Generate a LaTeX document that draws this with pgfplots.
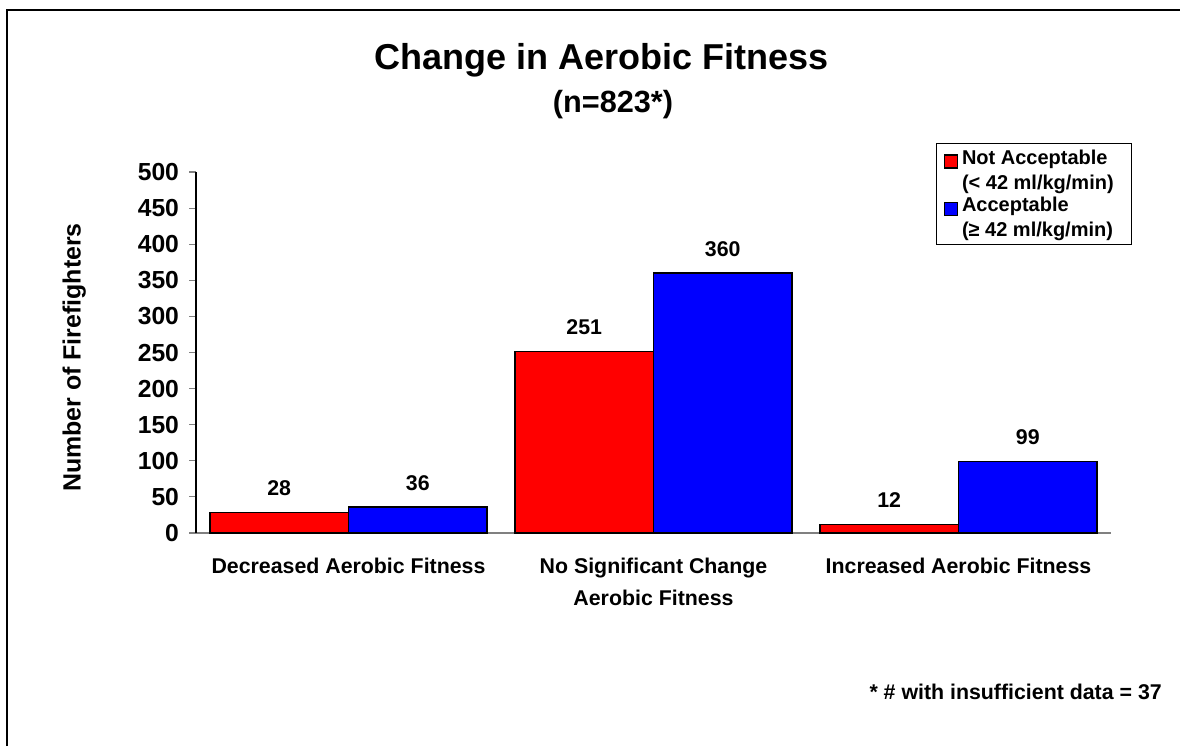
\documentclass[border=0pt]{standalone}
\usepackage{fontspec}
\setmainfont{Liberation Sans}
\usepackage{pgfplots}
\pgfplotsset{compat=1.18}
\newcommand{\fs}[2]{\fontsize{#1}{#2}\selectfont}
\definecolor{barred}{RGB}{255,0,0}
\definecolor{barblue}{RGB}{0,0,255}
\begin{document}
\begin{tikzpicture}
% page is 1180x746 px at 0.75pt per px
\useasboundingbox (0,0) rectangle (885pt,-559.5pt);
\draw[line width=1.2pt] (5.25pt,-559.5pt) -- (5.25pt,-7.5pt) -- (885pt,-7.5pt);
\begin{axis}[
  at={(147pt,-399.75pt)}, anchor=south west,
  scale only axis,
  width=686.25pt, height=270.75pt,
  ybar=0pt, bar width=103.9pt,
  xmin=-0.5, xmax=2.5, ymin=0, ymax=500,
  axis lines*=left,
  x axis line style={-, draw=gray, line width=1pt},
  y axis line style={-, draw=black, line width=0.8pt},
  xtick={0,1,2},
  xticklabels={Decreased Aerobic Fitness,{No Significant Change\\Aerobic Fitness},Increased Aerobic Fitness},
  xtick style={draw=none},
  xticklabel style={align=center, font=\bfseries\fs{16}{24}, yshift=-10pt},
  ytick distance=50,
  tick align=outside,
  major tick length=5.25pt,
  ytick style={draw=gray, line width=0.8pt},
  yticklabel style={font=\bfseries\fs{18.5}{22}, xshift=-4pt},
  /pgf/number format/assume math mode=true,
  ylabel={Number of Firefighters},
  ylabel style={at={(axis description cs:-0.133,0.486)}, anchor=center, font=\bfseries\fs{18.7}{22}},
  nodes near coords,
  nodes near coords style={font=\bfseries\fs{16}{20}, anchor=south, inner sep=0pt, yshift=12pt},
  legend style={at={(0.8087,1.080)}, anchor=north west, draw=black, line width=0.75pt,
    font=\bfseries\fs{15}{18.75}, cells={align=left, anchor=west}, row sep=0.5pt,
    inner xsep=5.5pt, inner ysep=2.5pt, /tikz/column sep=1pt},
]
\addplot[fill=barred, draw=black, line width=1pt,
  legend image code/.code={\draw[fill=barred, draw=black, line width=0.9pt] (0pt,1.8pt) rectangle (9.75pt,11.55pt);}]
  coordinates {(0,28) (1,251) (2,12)};
\addlegendentry{Not Acceptable\\(< 42 ml/kg/min)\hspace*{6pt}}
\addplot[fill=barblue, draw=black, line width=1pt,
  legend image code/.code={\draw[fill=barblue, draw=black, line width=0.9pt] (0pt,1.8pt) rectangle (9.75pt,11.55pt);}]
  coordinates {(0,36) (1,360) (2,99)};
\addlegendentry{Acceptable\\(≥ 42 ml/kg/min)\hspace*{6pt}}
\end{axis}
\node[anchor=base, inner sep=0pt, font=\bfseries\fs{27}{32}] at (451.1pt,-51.75pt) {Change in Aerobic Fitness};
\node[anchor=base, inner sep=0pt, font=\bfseries\fs{23}{28}] at (459.75pt,-84pt) {(n=823*)};
\node[anchor=base east, inner sep=0pt, font=\bfseries\fs{16}{20}] at (871.5pt,-524.25pt) {* \# with insufficient data = 37};
\end{tikzpicture}
\end{document}
